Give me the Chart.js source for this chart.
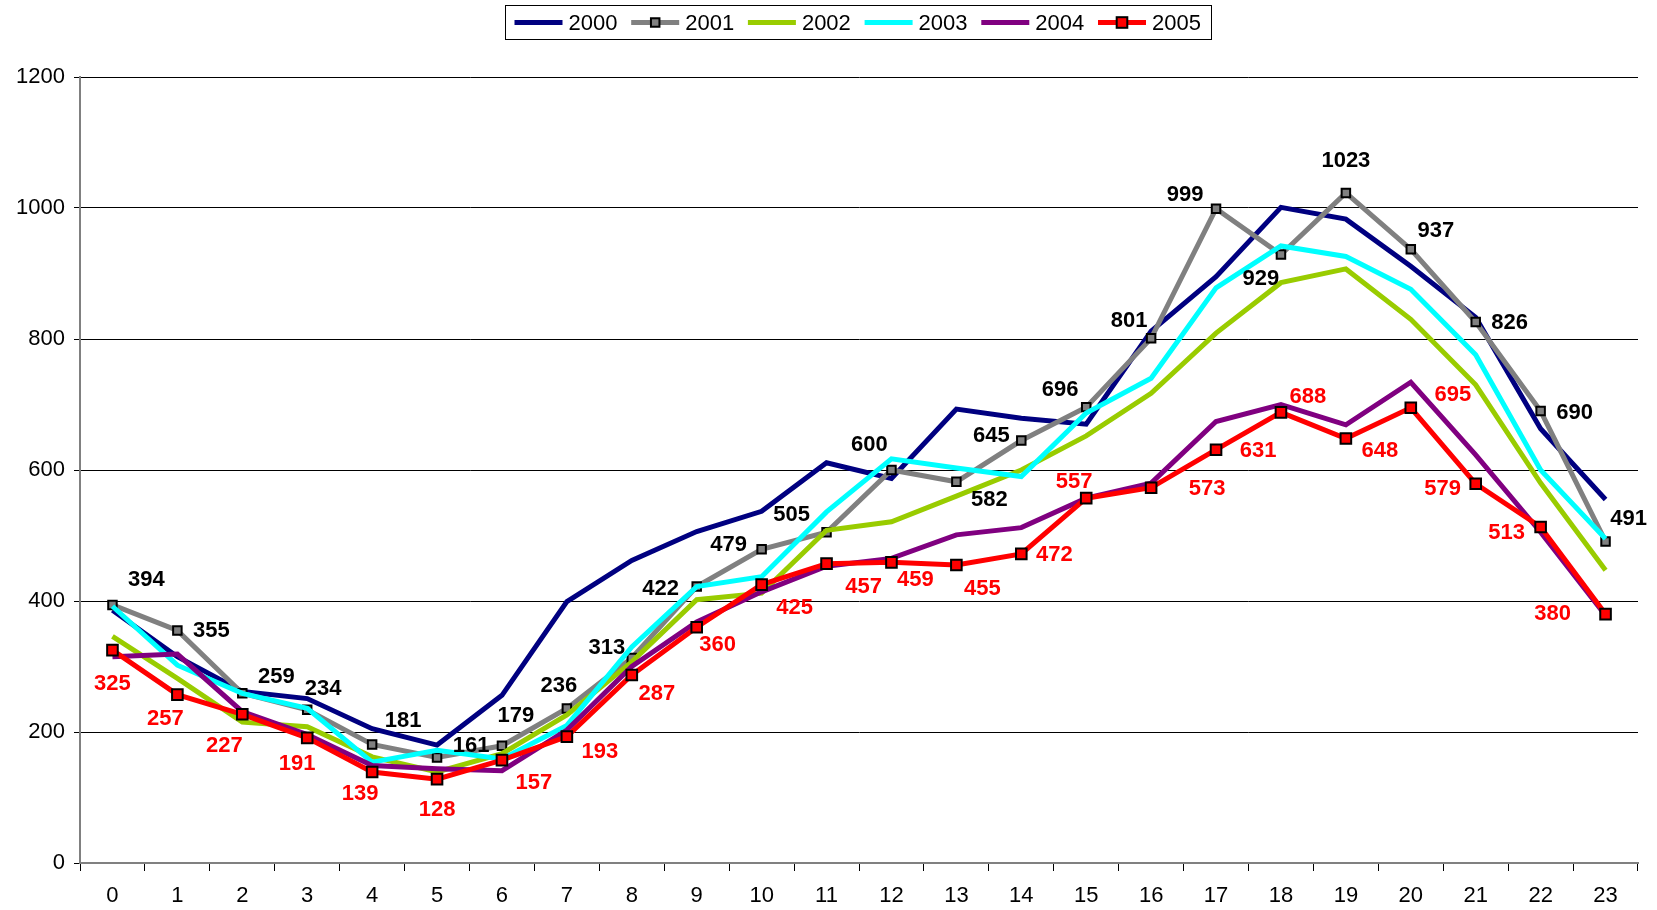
<!DOCTYPE html>
<html>
<head>
<meta charset="utf-8">
<script src="https://cdn.jsdelivr.net/npm/chart.js@4/dist/chart.umd.min.js"></script>
<style>
  body { margin: 0; background: #fff; }
  canvas { display: block; }
</style>
</head>
<body>
<canvas id="hourChart" width="1657" height="910"></canvas>
<script>
const hours = ['0', '1', '2', '3', '4', '5', '6', '7', '8', '9', '10', '11',
    '12', '13', '14', '15', '16', '17', '18', '19', '20', '21', '22', '23'];
const yearNames = ['2000', '2001', '2002', '2003', '2004', '2005'];
const yTicks = [0, 200, 400, 600, 800, 1000, 1200];

const values2000 = [386, 315, 262, 251, 205, 180, 256, 399, 462, 506, 537, 611, 587, 693, 679, 670, 812, 895, 1001, 983, 911, 833, 663, 555];
const values2001 = [394, 355, 259, 234, 181, 161, 179, 236, 313, 422, 479, 505, 600, 582, 645, 696, 801, 999, 929, 1023, 937, 826, 690, 491];
const values2002 = [346, 282, 215, 208, 162, 139, 167, 226, 307, 402, 412, 508, 521, 560, 600, 652, 717, 809, 886, 907, 830, 730, 580, 447];
const values2003 = [392, 302, 259, 236, 154, 172, 159, 210, 330, 422, 437, 536, 617, 603, 590, 687, 740, 878, 942, 926, 876, 776, 600, 495];
const values2004 = [315, 319, 231, 196, 149, 144, 141, 203, 300, 368, 414, 453, 465, 501, 512, 557, 580, 674, 700, 669, 734, 623, 505, 378];
const values2005 = [325, 257, 227, 191, 139, 128, 157, 193, 287, 360, 425, 457, 459, 455, 472, 557, 573, 631, 688, 648, 695, 579, 513, 380];

// where each value label sits relative to its point (px)
const labelShift2001 = [[34,-25],[34,0],[34,-16],[16,-21],[31,-24],[34,-12],[14,-30],[-8,-22],[-25,-10],[-36,2],[-33,-4],[-35,-17],
    [-22,-25],[33,18],[-30,-5],[-26,-17],[-22,-17],[-31,-14],[-20,24],[0,-32],[25,-18],[34,1],[34,2],[23,-22]];
const labelShift2005 = [[0,34],[-12,24],[-18,32],[-10,26],[-12,22],[0,31],[32,23],[33,15],[25,19],[21,18],[33,23],[37,23],
    [24,18],[26,24],[33,1],[-12,-16],[56,1],[42,1],[27,-15],[34,12],[42,-13],[-33,5],[-34,6],[-53,0]];

const FONT = '"Liberation Sans", Arial, sans-serif';

function plainLine(label, data, color, order) {
    return {
        label, data, order,
        borderColor: color,
        backgroundColor: color,
        borderWidth: 5,
        pointRadius: 0,
        pointHoverRadius: 0,
        tension: 0
    };
}

function markedLine(label, data, color, order, radius, shifts, labelColor) {
    return {
        label, data, order,
        borderColor: color,
        backgroundColor: color,
        borderWidth: 5,
        pointStyle: 'rect',
        pointRadius: radius,
        pointHoverRadius: radius,
        pointBackgroundColor: color,
        pointBorderColor: '#000',
        pointBorderWidth: 2,
        tension: 0,
        valueLabels: { shifts, color: labelColor }
    };
}

const valueLabelPlugin = {
    id: 'valueLabels',
    afterDatasetsDraw(chart) {
        const ctx = chart.ctx;
        ctx.save();
        ctx.font = 'bold 22px ' + FONT;
        ctx.textAlign = 'center';
        ctx.textBaseline = 'middle';
        chart.data.datasets.forEach((ds, i) => {
            if (!ds.valueLabels) return;
            const meta = chart.getDatasetMeta(i);
            ctx.fillStyle = ds.valueLabels.color;
            meta.data.forEach((pt, j) => {
                const s = ds.valueLabels.shifts[j];
                ctx.fillText(String(ds.data[j]), pt.x + s[0], pt.y + s[1]);
            });
        });
        ctx.restore();
    }
};

const boxLegendPlugin = {
    id: 'boxLegend',
    afterDraw(chart) {
        const ctx = chart.ctx;
        const itemW = 116.7;
        const total = 706;
        const left = 505.5;
        const top = 5.5, h = 34;
        ctx.save();
        ctx.fillStyle = '#fff';
        ctx.fillRect(left, top, total, h);
        ctx.strokeStyle = '#000';
        ctx.lineWidth = 1;
        ctx.strokeRect(left, top, total, h);
        ctx.font = '22px ' + FONT;
        ctx.textBaseline = 'middle';
        const cy = top + h / 2;
        chart.data.datasets.forEach((ds, i) => {
            const x0 = left + 9 + i * itemW;
            ctx.strokeStyle = ds.borderColor;
            ctx.lineWidth = 5;
            ctx.beginPath();
            ctx.moveTo(x0, cy);
            ctx.lineTo(x0 + 48, cy);
            ctx.stroke();
            if (ds.pointStyle === 'rect') {
                const side = ds.pointRadius * Math.SQRT1_2 * 2;
                ctx.fillStyle = ds.pointBackgroundColor;
                ctx.fillRect(x0 + 24 - side / 2, cy - side / 2, side, side);
                ctx.strokeStyle = '#000';
                ctx.lineWidth = 2;
                ctx.strokeRect(x0 + 24 - side / 2, cy - side / 2, side, side);
            }
            ctx.fillStyle = '#000';
            ctx.fillText(ds.label, x0 + 54, cy + 1);
        });
        ctx.restore();
    }
};

const ctx = document.getElementById('hourChart').getContext('2d');
new Chart(ctx, {
    type: 'line',
    data: {
        labels: hours,
        datasets: [
            plainLine(yearNames[0], values2000, '#000080', 5),
            markedLine(yearNames[1], values2001, '#808080', 4, 6, labelShift2001, '#000'),
            plainLine(yearNames[2], values2002, '#99CC00', 3),
            plainLine(yearNames[3], values2003, '#00FFFF', 2),
            plainLine(yearNames[4], values2004, '#800080', 1),
            markedLine(yearNames[5], values2005, '#FF0000', 0, 7.5, labelShift2005, '#FF0000')
        ]
    },
    options: {
        responsive: false,
        animation: false,
        layout: { padding: { top: 77, right: 19, bottom: 0, left: 0 } },
        plugins: {
            legend: { display: false },
            tooltip: { enabled: false }
        },
        scales: {
            x: {
                offset: true,
                grid: {
                    offset: true,
                    drawOnChartArea: false,
                    color: '#000',
                    tickLength: 8
                },
                border: { color: '#808080', width: 2 },
                ticks: {
                    color: '#000',
                    font: { family: FONT, size: 22 },
                    padding: 12,
                    maxRotation: 0,
                    autoSkip: false
                },
                afterFit(scale) { scale.height = 47; }
            },
            y: {
                min: 0,
                max: 1200,
                afterBuildTicks(scale) { scale.ticks = yTicks.map(v => ({ value: v })); },
                grid: { color: '#000', lineWidth: 1, tickLength: 6 },
                border: { color: '#808080', width: 2 },
                ticks: {
                    color: '#000',
                    font: { family: FONT, size: 22 },
                    padding: 9,
                    callback: (v) => String(v)
                },
                afterFit(scale) { scale.width = 80; }
            }
        }
    },
    plugins: [valueLabelPlugin, boxLegendPlugin]
});
</script>
</body>
</html>
